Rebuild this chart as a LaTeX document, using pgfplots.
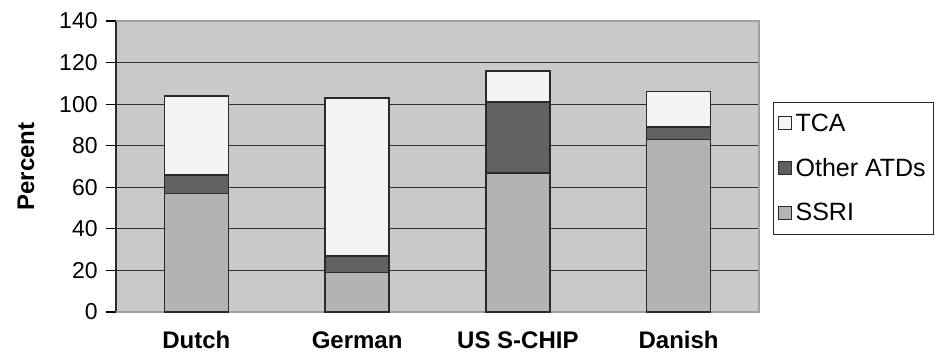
\documentclass[border=0pt]{standalone}
\usepackage{fontspec}
\setmainfont{Liberation Sans}
\usepackage{pgfplots}
\pgfplotsset{compat=1.18}
\definecolor{bgcol}{HTML}{C8C9CB}
\definecolor{ssri}{HTML}{B2B3B5}
\definecolor{other}{HTML}{606163}
\definecolor{tca}{HTML}{F3F4F4}
\definecolor{gridc}{HTML}{303030}
\definecolor{edge}{HTML}{2A2A2A}
\begin{document}
\begin{tikzpicture}
\begin{axis}[
  name=ax,
  scale only axis,
  width=321.5pt, height=145.5pt,
  ybar stacked,
  bar width=32pt,
  xmin=-0.5, xmax=3.5,
  ymin=0, ymax=140,
  ytick={0,20,...,140},
  xtick={0,1,2,3},
  xticklabels={Dutch,German,US S-CHIP,Danish},
  axis background/.style={fill=bgcol},
  axis line style={draw=none},
  ymajorgrids,
  major grid style={draw=gridc, line width=0.6pt},
  ytick pos=left,
  tick align=outside,
  major tick length=5pt,
  y tick style={draw=black, line width=0.6pt},
  x tick style={draw=none},
  /pgf/number format/assume math mode=true,
  yticklabel style={font=\fontsize{11.5}{13}\selectfont, inner sep=0pt, xshift=-4pt},
  xticklabel style={font=\bfseries\fontsize{12}{14}\selectfont, inner sep=0pt, yshift=-4.5pt},
  ylabel={Percent},
  every axis y label/.style={at={(rel axis cs:0,0.5)}, xshift=-45pt, rotate=90, anchor=center,
    font=\bfseries\fontsize{12}{14}\selectfont},
  legend style={at={(rel axis cs:1.0218,0.7216)}, anchor=north west,
    draw=edge, line width=0.6pt, fill=white,
    font=\fontsize{12.5}{15}\selectfont,
    row sep=8pt, inner xsep=2pt, inner ysep=3.5pt,
    cells={anchor=west}},
  legend cell align=left,
  reverse legend,
  legend image code/.code={\draw[#1, line width=0.5pt] (0pt,-3pt) rectangle (6.5pt,3.5pt);},
  every axis plot/.append style={draw=edge, line width=0.8pt},
  clip=false,
]
\addplot[fill=ssri] coordinates {(0,57) (1,19) (2,67) (3,83)};
\addlegendentry{SSRI}
\addplot[fill=other] coordinates {(0,9) (1,8) (2,34) (3,6)};
\addlegendentry{Other ATDs}
\addplot[fill=tca] coordinates {(0,38) (1,76) (2,15) (3,17)};
\addlegendentry{TCA}
\draw[draw=gray!75, line width=0.6pt] (rel axis cs:0,1) -- (rel axis cs:1,1) -- (rel axis cs:1,0) -- (rel axis cs:0,0);
\draw[draw=edge, line width=0.8pt] (rel axis cs:0,0) -- (rel axis cs:0,1);
\end{axis}
\pgfresetboundingbox
\path[use as bounding box] (ax.south west) ++(-58pt,-20.5pt) rectangle ++(472pt,176.5pt);
\end{tikzpicture}
\end{document}
